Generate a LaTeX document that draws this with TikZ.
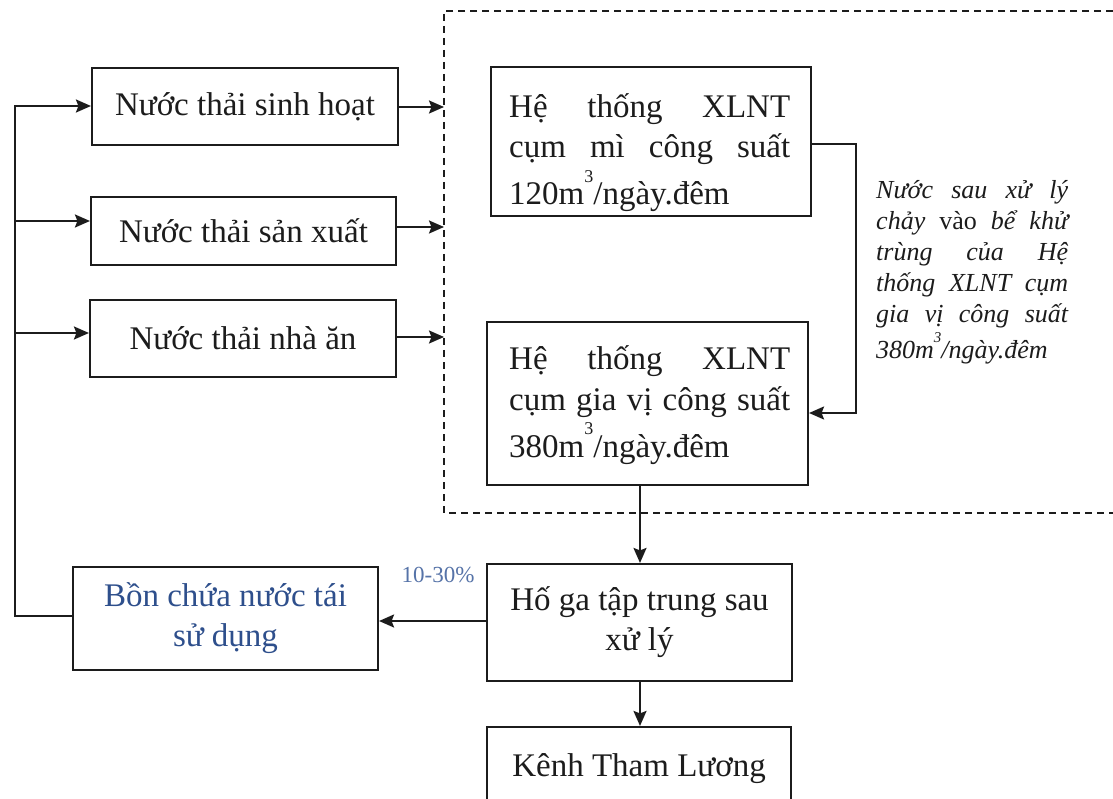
\documentclass[tikz,border=0pt]{standalone}
\usepackage{fontspec}
\setmainfont{Liberation Serif}
\usetikzlibrary{arrows.meta}
\definecolor{ink}{HTML}{1C1C1C}
\definecolor{blueA}{HTML}{2E4F8C}
\definecolor{blueB}{HTML}{5673A8}
\newcommand{\mcube}[2]{\smash{\raisebox{#1}{\fontsize{#2}{#2}\selectfont 3}}}
\begin{document}
\begin{tikzpicture}[x=1pt,y=-1pt,
  box/.style={draw=ink, line width=2.1pt, inner sep=0pt, font=\fontsize{33}{40}\selectfont, text=ink, align=center},
  txt/.style={anchor=base west, inner sep=0pt, text=ink},
  line/.style={draw=ink, line width=2.1pt},
  arr/.style={line, -{Stealth[length=15pt,width=13pt,inset=2.5pt]}},
  dashbox/.style={draw=ink, line width=1.8pt, dash pattern=on 7pt off 5pt}]
\useasboundingbox (0,0) rectangle (1113,799);
\clip (0,0) rectangle (1113,799);
\fill[white] (0,0) rectangle (1113,799);

% boxes
\node[box, minimum width=306, minimum height=77] (sh) at (245,106.5) {Nước thải sinh hoạt};
\node[box, minimum width=305, minimum height=68] (sx) at (243.5,231) {Nước thải sản xuất};
\node[box, minimum width=306, minimum height=77] (na) at (243,338.5) {Nước thải nhà ăn};
\node[box, minimum width=305, minimum height=103, text=blueA] (bon) at (225.5,618.5) {Bồn chứa nước tái\\ sử dụng};
\node[box, minimum width=320, minimum height=149] (mi) at (651,141.5) {};
\node[box, minimum width=321, minimum height=163] (gv) at (647.5,403.5) {};
\node[box, minimum width=305, minimum height=117] (hg) at (639.5,622.5) {Hố ga tập trung sau\\ xử lý};
\node[box, minimum width=304, minimum height=84] (kenh) at (639,769) {Kênh Tham Lương};

% texts of the treatment boxes
\node[txt, font=\fontsize{33}{40}\selectfont] (mit) at (509,118)
  {\parbox[t]{281pt}{Hệ\hfill thống\hfill XLNT\\ cụm\hfill mì\hfill công\hfill suất\\[7pt] 120m\mcube{22pt}{18}/ngày.đêm}};
\node[txt, font=\fontsize{33}{40}\selectfont] (gvt) at (509,370)
  {\parbox[t]{281pt}{Hệ\hfill thống\hfill XLNT\\ cụm\hfill gia\hfill vị\hfill công\hfill suất\\[7pt] 380m\mcube{22pt}{18}/ngày.đêm}};

% note
\node[txt, font=\fontsize{26}{31}\selectfont\itshape] (note) at (876,199)
  {\parbox[t]{192pt}{Nước\hfill sau\hfill xử\hfill lý\\ chảy\hfill{\upshape vào}\hfill bể\hfill khử\\ trùng\hfill của\hfill Hệ\\ thống\hfill XLNT\hfill cụm\\ gia\hfill vị\hfill công\hfill suất\\[5pt] 380m\mcube{16pt}{15}/ngày.đêm}};

\node[anchor=base, inner sep=0pt, text=blueB, font=\fontsize{23}{23}\selectfont] (pct) at (438,582) {10-30\%};

% dashed frame
\coordinate (B1) at (1125,11);
\coordinate (B2) at (444,11);
\coordinate (B3) at (444,513);
\coordinate (B4) at (1125,513);
\draw[dashbox] (B1) -- (B2) -- (B3) -- (B4);

% recycle loop on the left
\coordinate (L1) at (15,106);
\coordinate (L2) at (15,221);
\coordinate (L3) at (15,333);
\coordinate (Lb) at (15,616);
\draw[arr] (Lb -| bon.west) -- (Lb) -- (L1) -- (L1 -| sh.west);
\draw[arr] (L2) -- (L2 -| sx.west);
\draw[arr] (L3) -- (L3 -| na.west);

% into the dashed frame
\coordinate (D1) at (444,107);
\coordinate (D2) at (444,227);
\coordinate (D3) at (444,337);
\draw[arr] (D1 -| sh.east) -- (D1);
\draw[arr] (D2 -| sx.east) -- (D2);
\draw[arr] (D3 -| na.east) -- (D3);

% mi -> gia vi
\coordinate (c1) at (856,144);
\coordinate (c2) at (856,413);
\draw[arr] (c1 -| mi.east) -- (c1) -- (c2) -- (c2 -| gv.east);

% downward flow
\coordinate (v) at (640,0);
\draw[arr] (v |- gv.south) -- (v |- hg.north);
\draw[arr] (v |- hg.south) -- (v |- kenh.north);

% reuse
\coordinate (h) at (0,621);
\draw[arr] (h -| hg.west) -- (h -| bon.east);
\end{tikzpicture}
\end{document}
